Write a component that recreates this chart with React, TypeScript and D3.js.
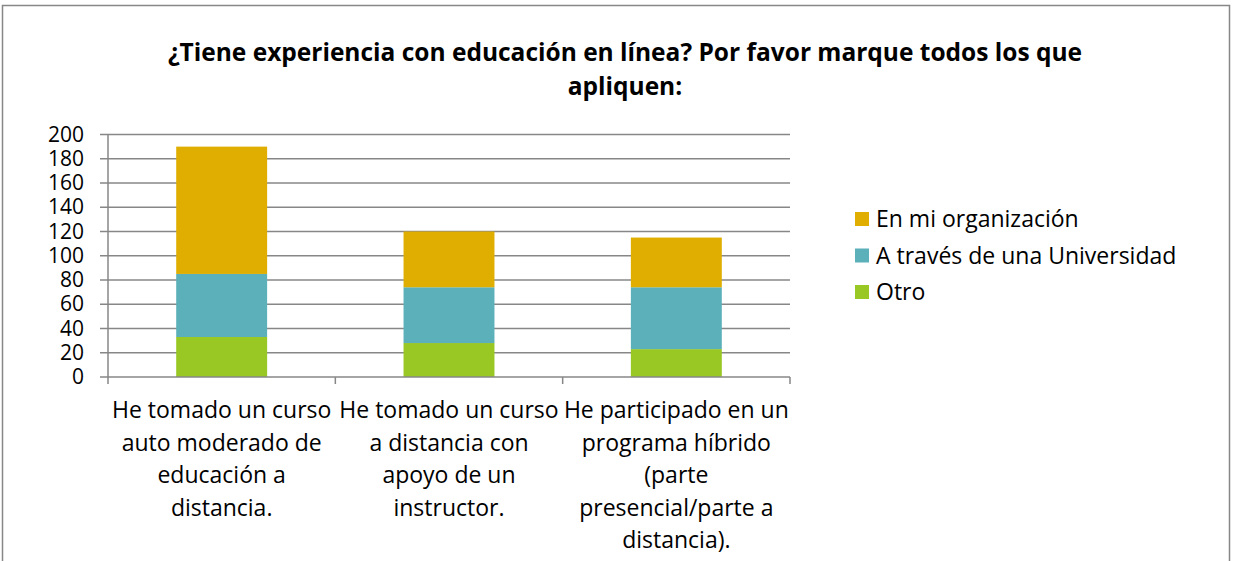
import { useRef, useEffect } from "react";
import * as d3 from "d3";

const categories = [
  ["He tomado un curso", "auto moderado de", "educación a", "distancia."],
  ["He tomado un curso", "a distancia con", "apoyo de un", "instructor."],
  ["He participado en un", "programa híbrido", "(parte", "presencial/parte a", "distancia)."],
];
const otro = [33, 28, 23];
const universidad = [52, 46, 51];
const organizacion = [105, 46, 41];
const yTicks = [0, 20, 40, 60, 80, 100, 120, 140, 160, 180, 200];

const seriesNames = ["Otro", "A través de una Universidad", "En mi organización"];
const seriesColors = ["#99C723", "#5BB0BA", "#DFAE00"];
const titleLines = [
  "¿Tiene experiencia con educación en línea? Por favor marque todos los que",
  "apliquen:",
];

const WIDTH = 1233;
const HEIGHT = 561;
const PLOT = { left: 108, right: 790, top: 134.5, bottom: 377 };
const FONT = "'Open Sans', 'Noto Sans', sans-serif";

export default function App() {
  const svgRef = useRef<SVGSVGElement>(null);

  useEffect(() => {
    document.body.style.margin = "0";
    const svg = d3.select(svgRef.current);
    svg.selectAll("*").remove();

    svg.append("rect").attr("width", WIDTH).attr("height", HEIGHT).attr("fill", "#fff");
    // chart frame (bottom edge is cut off)
    svg.append("rect")
      .attr("x", 2.5).attr("y", 5.5)
      .attr("width", 1227).attr("height", 600)
      .attr("fill", "none").attr("stroke", "#878787").attr("stroke-width", 1.5);

    // title
    const t = svg.append("text")
      .attr("text-anchor", "middle")
      .attr("font-family", FONT).attr("font-weight", "bold").attr("font-size", 24.5)
      .attr("fill", "#000");
    titleLines.forEach((l, i) => {
      t.append("tspan").attr("x", 625).attr("y", 61 + i * 34).text(l);
    });

    const idx = categories.map((_, i) => i);
    const x = d3.scaleBand<number>().domain(idx).range([PLOT.left, PLOT.right]).paddingInner(0).paddingOuter(0);
    const y = d3.scaleLinear().domain([0, 200]).range([PLOT.bottom, PLOT.top]);

    // gridlines
    svg.append("g")
      .selectAll("line")
      .data(yTicks.filter((d) => d > 0))
      .join("line")
      .attr("x1", PLOT.left - 8).attr("x2", PLOT.right)
      .attr("y1", (d) => y(d)).attr("y2", (d) => y(d))
      .attr("stroke", "#878787").attr("stroke-width", 1.3);

    // y labels
    svg.append("g")
      .selectAll("text")
      .data(yTicks)
      .join("text")
      .attr("x", 84).attr("y", (d) => y(d) + 7)
      .attr("text-anchor", "end")
      .attr("font-family", FONT).attr("font-size", 21).attr("fill", "#000")
      .text((d) => d);

    // stacked bars
    const rows = idx.map((i) => ({ i, s0: otro[i], s1: universidad[i], s2: organizacion[i] }));
    const stack = d3.stack<(typeof rows)[0]>().keys(["s0", "s1", "s2"]);
    const layers = stack(rows);
    const barW = x.bandwidth() * 0.4;
    layers.forEach((layer, k) => {
      svg.append("g")
        .selectAll("rect")
        .data(layer)
        .join("rect")
        .attr("x", (d) => x(d.data.i)! + (x.bandwidth() - barW) / 2)
        .attr("width", barW)
        .attr("y", (d) => y(d[1]))
        .attr("height", (d) => y(d[0]) - y(d[1]))
        .attr("fill", seriesColors[k]);
    });

    // axes lines
    svg.append("line")
      .attr("x1", PLOT.left - 8).attr("x2", PLOT.right)
      .attr("y1", PLOT.bottom).attr("y2", PLOT.bottom)
      .attr("stroke", "#878787").attr("stroke-width", 1.5);
    svg.append("line")
      .attr("x1", PLOT.left).attr("x2", PLOT.left)
      .attr("y1", PLOT.top).attr("y2", PLOT.bottom)
      .attr("stroke", "#878787").attr("stroke-width", 1.5);
    const edges = [...idx.map((i) => x(i)!), PLOT.right];
    svg.append("g")
      .selectAll("line")
      .data(edges)
      .join("line")
      .attr("x1", (d) => d).attr("x2", (d) => d)
      .attr("y1", PLOT.bottom).attr("y2", PLOT.bottom + 7)
      .attr("stroke", "#878787").attr("stroke-width", 1.5);

    // category labels
    categories.forEach((lines, i) => {
      const cx = x(i)! + x.bandwidth() / 2;
      const txt = svg.append("text")
        .attr("text-anchor", "middle")
        .attr("font-family", FONT).attr("font-size", 23).attr("fill", "#000");
      lines.forEach((l, j) => {
        txt.append("tspan").attr("x", cx).attr("y", 418 + j * 32.5).text(l);
      });
    });

    // legend (reverse order, like the stack)
    const legendOrder = [2, 1, 0];
    legendOrder.forEach((k, j) => {
      const ly = 219 + j * 36.5;
      svg.append("rect")
        .attr("x", 855).attr("y", ly - 7).attr("width", 14).attr("height", 14)
        .attr("fill", seriesColors[k]);
      svg.append("text")
        .attr("x", 876).attr("y", ly + 8)
        .attr("font-family", FONT).attr("font-size", 23).attr("fill", "#000")
        .text(seriesNames[k]);
    });
  }, []);

  return <svg ref={svgRef} width={WIDTH} height={HEIGHT} style={{ display: "block" }} />;
}
